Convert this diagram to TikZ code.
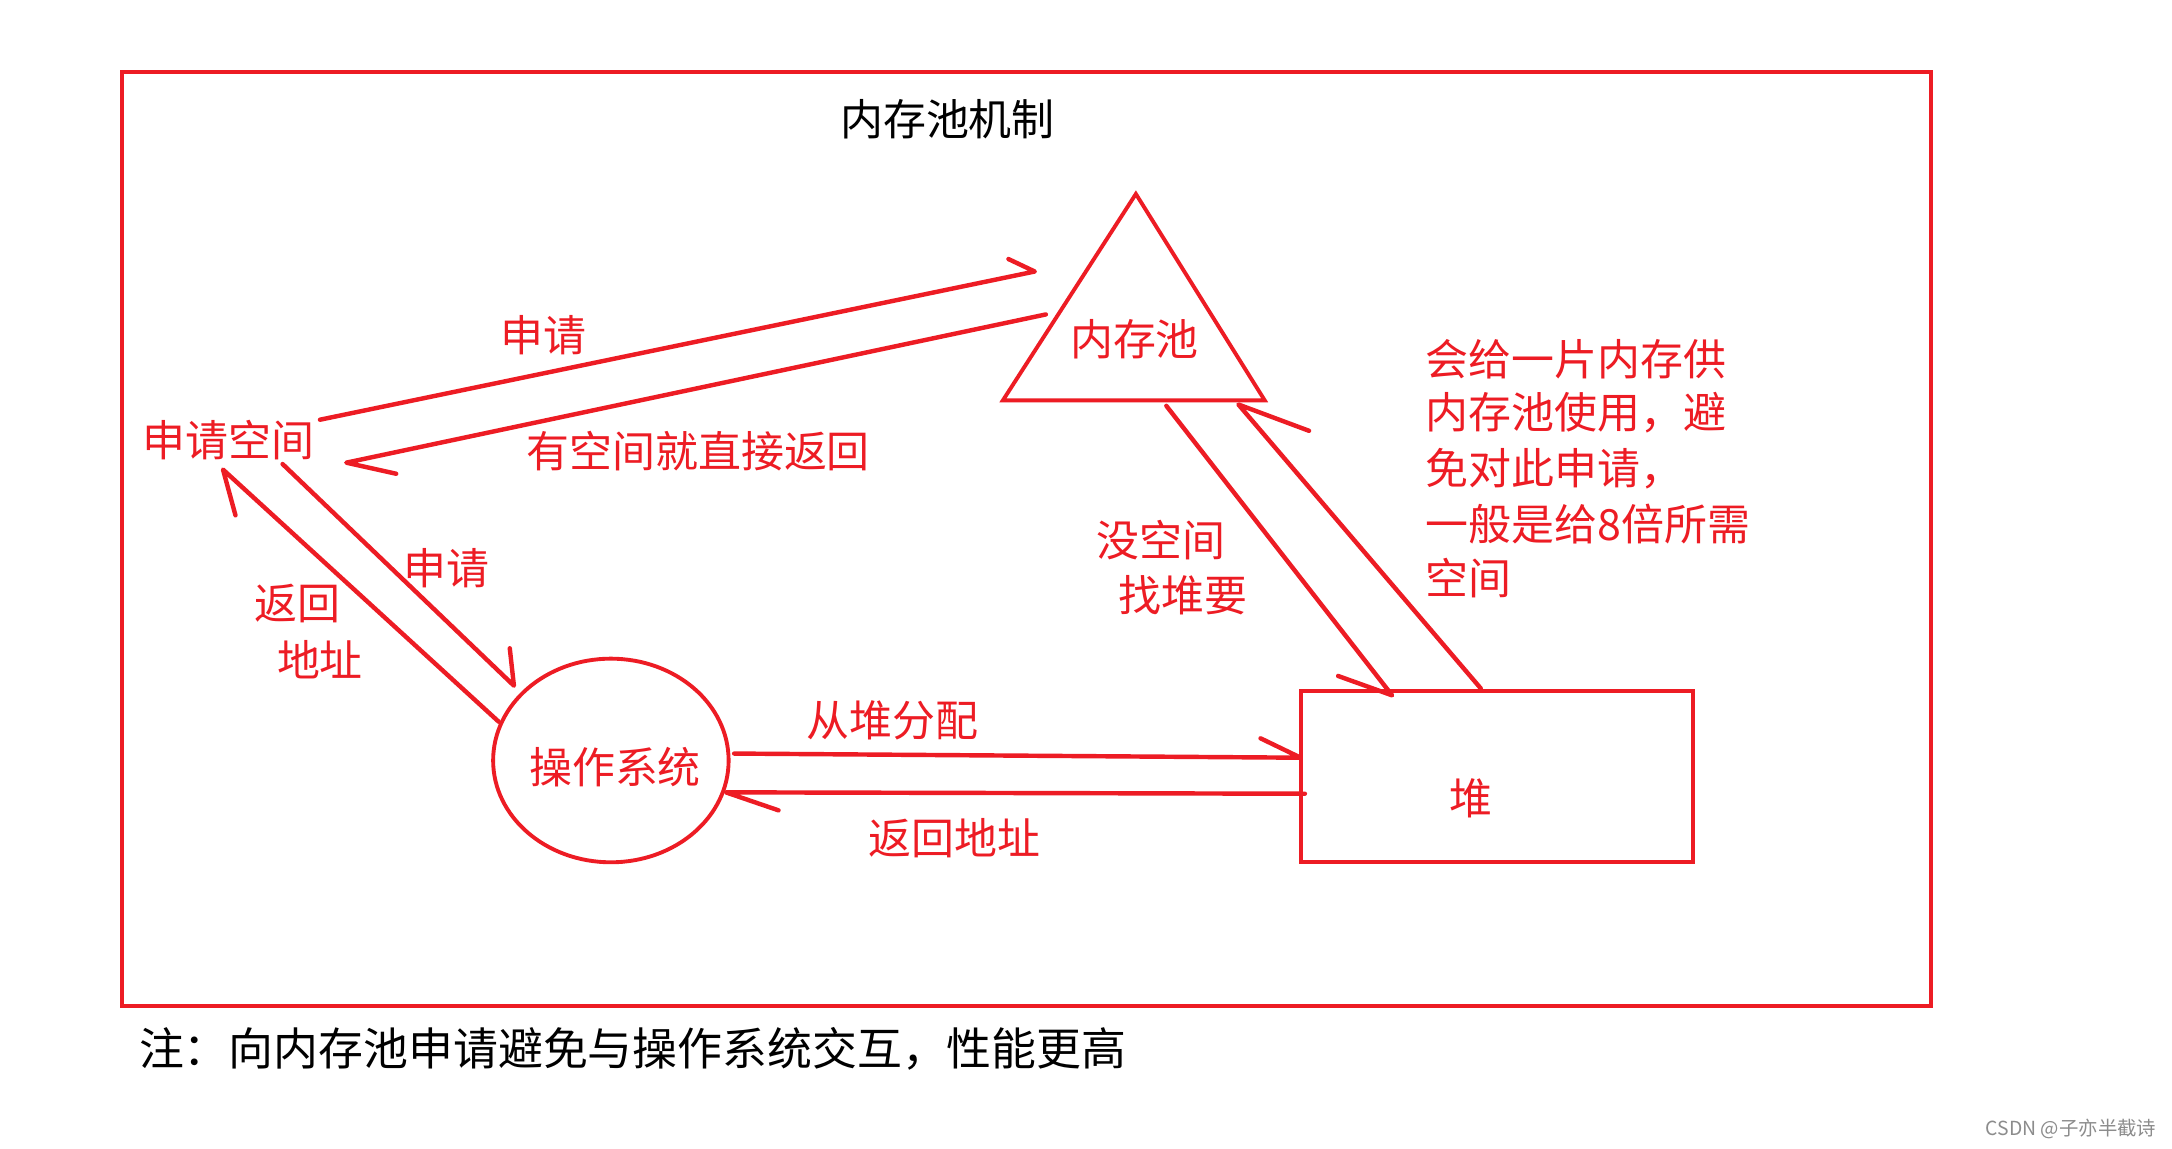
\documentclass[tikz,border=0pt]{standalone}
\usepackage{fontspec}
\setmainfont{Noto Sans CJK SC}
\usetikzlibrary{shapes.geometric}
\definecolor{pr}{RGB}{237,28,36}
\begin{document}
\begin{tikzpicture}[x=0.5pt,y=-0.5pt,
  redline/.style={draw=pr, line width=1.6pt, line cap=round, line join=round},
  shapeline/.style={draw=pr, line width=1.4pt},
  lbl/.style={text=pr, font=\fontsize{15.5pt}{18pt}\selectfont, inner sep=0pt},
  blk/.style={text=black, font=\fontsize{15.5pt}{18pt}\selectfont, inner sep=0pt}]
\useasboundingbox (0,0) rectangle (1568,829);
\fill[white] (0,0) rectangle (1568,829);
% frame
\draw[shapeline] (88,52) rectangle (1394,726);
\node[blk] (title) at (684,86) {内存池机制};
% shapes
\draw[shapeline, line join=miter] (820,140) coordinate (apex) -- (724,289) coordinate (bl) -- (913,289) coordinate (br) -- cycle;
\node[lbl] (pool) at (819,245) {内存池};
\node[lbl] (req) at (165,318) {申请空间};
\node[shapeline, ellipse, minimum width=85pt, minimum height=73.5pt, inner sep=0pt] (os) at (441,549) {};
\node[lbl] (ostxt) at (444,554) {操作系统};
\node[shapeline, minimum width=141.5pt, minimum height=61.5pt, inner sep=0pt] (heap) at (1080.5,560.5) {};
\node[lbl] (heaptxt) at (1062,576) {堆};
% arrow coordinates
\coordinate (a1s) at (231,303); \coordinate (a1t) at (747,196); \coordinate (a1b) at (728,187);
\coordinate (a2s) at (755,227); \coordinate (a2t) at (250,334); \coordinate (a2b) at (286,342);
\coordinate (a3s) at (204,335); \coordinate (a3t) at (371,495); \coordinate (a3b) at (368,468);
\coordinate (a4s) at (360,521); \coordinate (a4t) at (161,339); \coordinate (a4b) at (170,372);
\coordinate (a5s) at (530,544); \coordinate (a5t) at (939,547); \coordinate (a5b) at (910,533);
\coordinate (a6s) at (942,573); \coordinate (a6t) at (524,572); \coordinate (a6b) at (562,585);
\coordinate (a7s) at (842,293); \coordinate (a7t) at (1005,502); \coordinate (a7b) at (966,488);
\coordinate (a8s) at (1069,497); \coordinate (a8t) at (894,292); \coordinate (a8b) at (945,311);
\foreach \i in {1,...,8}{\draw[redline] (a\i s) -- (a\i t) -- (a\i b);}
% labels
\node[lbl] (l1) at (392,242) {申请};
\node[lbl] (l2) at (504,326) {有空间就直接返回};
\node[lbl] (l3) at (322,410) {申请};
\node[lbl] (l4) at (215,436) {返回};
\node[lbl] (l5) at (231,476) {地址};
\node[lbl] (l6) at (644,520) {从堆分配};
\node[lbl] (l7) at (689,605) {返回地址};
\node[lbl] (l8) at (838,390) {没空间};
\node[lbl] (l9) at (854,430) {找堆要};
\node[lbl, anchor=west] (m1) at (1029,259) {会给一片内存供};
\node[lbl, anchor=west] (m2) at (1029,298) {内存池使用，避};
\node[lbl, anchor=west] (m3) at (1029,338) {免对此申请，};
\node[lbl, anchor=west] (m4) at (1029,378) {一般是给8倍所需};
\node[lbl, anchor=west] (m5) at (1029,417) {空间};
\node[blk, anchor=west, font=\fontsize{16.2pt}{19pt}\selectfont] (note) at (100,757) {注：向内存池申请避免与操作系统交互，性能更高};
\node[anchor=east, inner sep=0pt, text=black!45, font=\fontsize{7pt}{8pt}\selectfont] (csdn) at (1557,815) {CSDN @子亦半截诗};
\end{tikzpicture}
\end{document}
